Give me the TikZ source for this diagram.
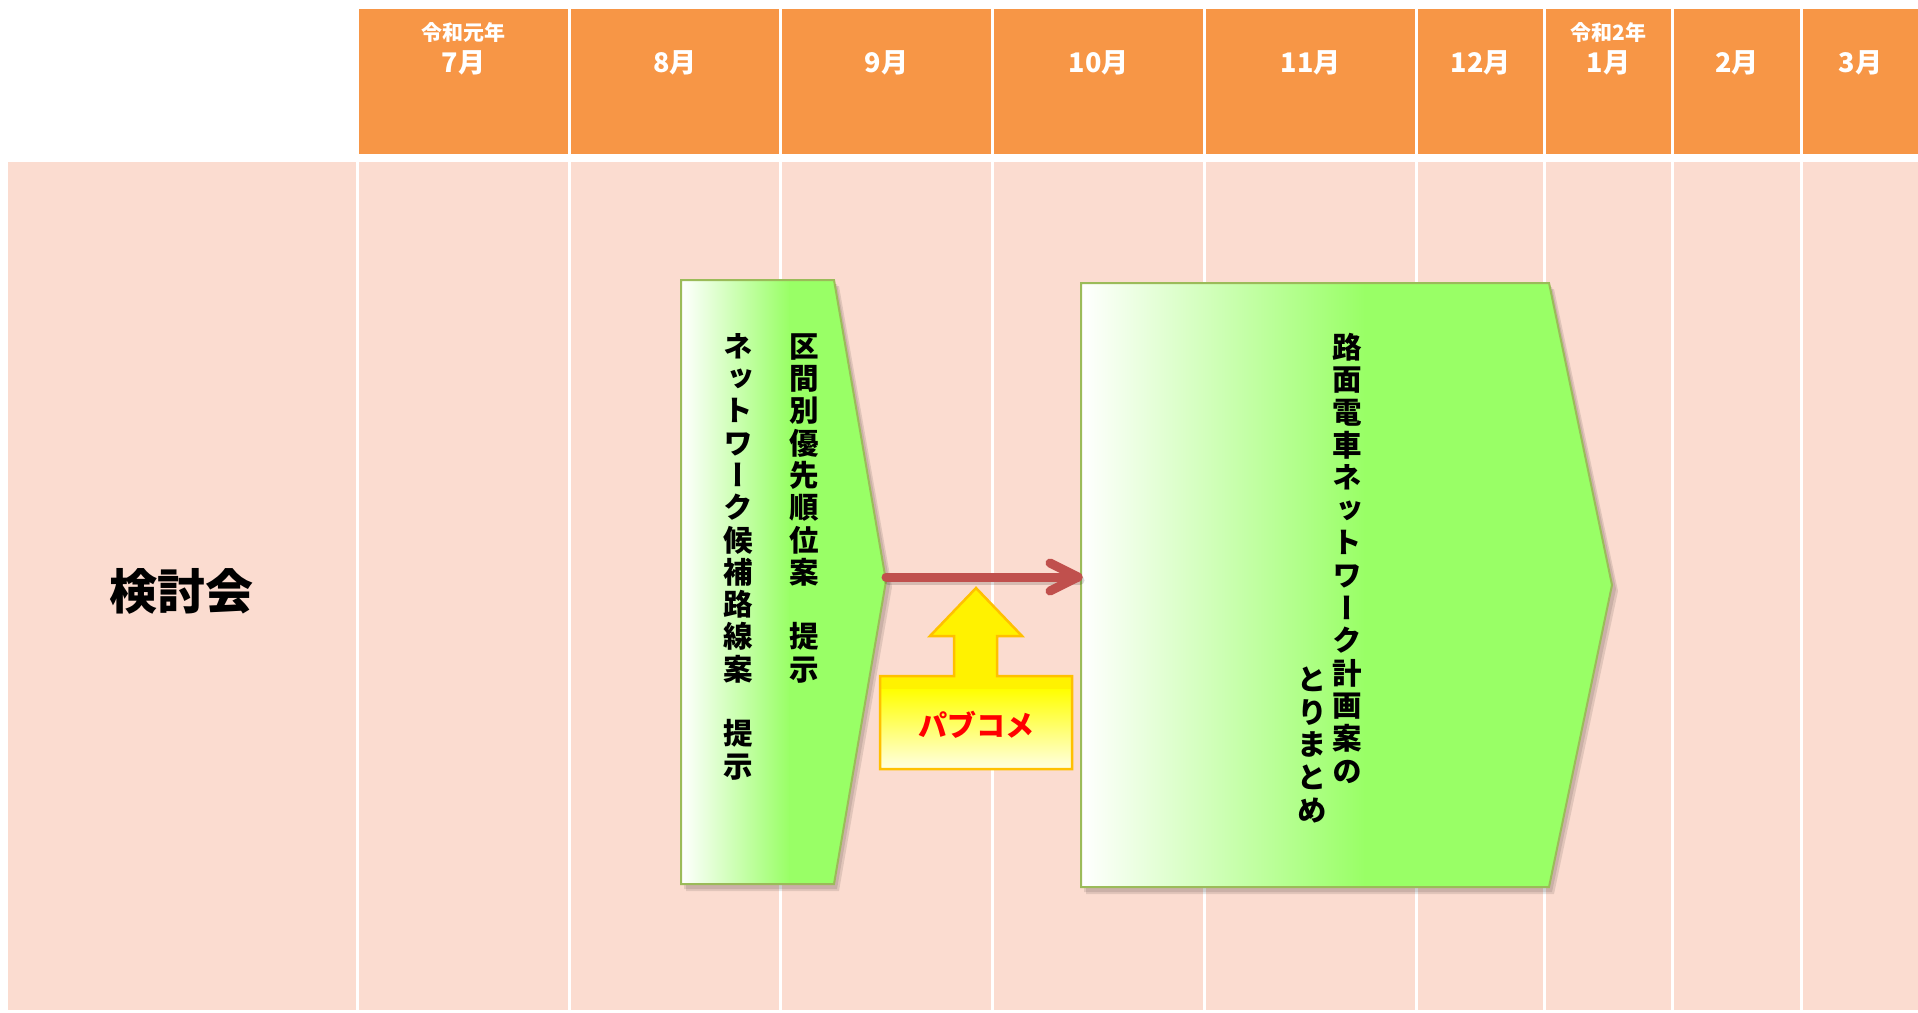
\documentclass[tikz,border=0pt]{standalone}
\usepackage{fontspec}
\newfontfamily\jp{Noto Sans CJK JP}
\newfontfamily\jpv{Noto Sans CJK JP}[RawFeature={+vert}]
\definecolor{hdr}{HTML}{F79646}
\definecolor{bodypink}{HTML}{FBDCD0}
\definecolor{grn}{HTML}{99FF66}
\definecolor{grnedge}{HTML}{9BBB59}
\definecolor{arrowred}{HTML}{C0504D}
\definecolor{ylwedge}{HTML}{FFC000}
\definecolor{ylwlight}{HTML}{FFFFE6}
\tikzset{
  hdrcell/.style={fill=hdr},
  bodycell/.style={fill=bodypink},
  yearlbl/.style={font=\jp\bfseries\fontsize{21}{21}\selectfont, text=white, inner sep=0},
  monthlbl/.style={font=\jp\bfseries\fontsize{27}{27}\selectfont, text=white, inner sep=0},
  vchar/.style={font=\jpv\bfseries\fontsize{29.5}{29.5}\selectfont, inner sep=0, text height=26pt, text depth=3.5pt, text width=30pt, align=center},
  boxedge/.style={draw=grnedge, line width=2pt, line join=miter},
  boxshadow/.style={fill=black, opacity=0.10},
  redarrow/.style={draw=arrowred, line width=9pt, line cap=round, line join=round},
  ylwedgestyle/.style={draw=ylwedge, line width=2.5pt, line join=miter},
}
\begin{document}
\begin{tikzpicture}[x=1pt,y=-1pt]
\fill[white] (0,0) rectangle (1918,1012);
\useasboundingbox (0,0) rectangle (1918,1012);

% left cell
\fill[bodycell] (8,162) rectangle (356,1010);
\node[font=\jp\bfseries\fontsize{48}{48}\selectfont, inner sep=0] (kentou) at (181,591) {検討会};

% columns
\foreach \xa/\xb in {359/568,571/779,782/991,994/1203,1206/1415,1418/1543,1546/1671,1674/1800,1803/1918}{
  \fill[hdrcell] (\xa,9) rectangle (\xb,154);
  \fill[bodycell] (\xa,162) rectangle (\xb,1010);
}

% header labels
\node[yearlbl] (y1) at (463.5,32) {令和元年};
\node[monthlbl] (m7) at (463.5,63) {7月};
\node[monthlbl] (m8) at (675,63) {8月};
\node[monthlbl] (m9) at (886.5,63) {9月};
\node[monthlbl] (m10) at (1098.5,63) {10月};
\node[monthlbl] (m11) at (1310.5,63) {11月};
\node[monthlbl] (m12) at (1480.5,63) {12月};
\node[yearlbl] (y2) at (1608.5,32) {令和2年};
\node[monthlbl] (m1) at (1608.5,63) {1月};
\node[monthlbl] (m2) at (1737,63) {2月};
\node[monthlbl] (m3) at (1860.5,63) {3月};

% ---- box 1 ----
\fill[boxshadow] (684,284) -- (837,284) -- (890,585) -- (837,889) -- (684,889) -- cycle;
\fill[boxshadow] (686,286) -- (839,286) -- (892,587) -- (839,891) -- (686,891) -- cycle;
\begin{scope}
  \clip (681,280) -- (834,280) -- (886,581) -- (834,884) -- (681,884) -- cycle;
  \shade[left color=white, right color=grn] (681,280) rectangle (790,884);
  \fill[grn] (789,280) rectangle (890,884);
\end{scope}
\draw[boxedge] (681,280) -- (834,280) -- (886,581) -- (834,884) -- (681,884) -- cycle;
\coordinate (b1tip) at (886,577);

\foreach \c [count=\i from 0] in {区,間,別,優,先,順,位,案,{},提,示}
  \node[vchar] (p\i) at (804,346+32.3*\i) {\c};
\foreach \c [count=\i from 0] in {ネ,ッ,ト,ワ,ー,ク,候,補,路,線,案,{},提,示}
  \node[vchar] (q\i) at (738,346+32.3*\i) {\c};

% ---- box 2 ----
\fill[boxshadow] (1084,287) -- (1552,287) -- (1616,589) -- (1552,892) -- (1084,892) -- cycle;
\fill[boxshadow] (1086,289) -- (1554,289) -- (1618,591) -- (1554,894) -- (1086,894) -- cycle;
\begin{scope}
  \clip (1081,283) -- (1549,283) -- (1612,585) -- (1549,887) -- (1081,887) -- cycle;
  \shade[left color=white, right color=grn] (1081,283) rectangle (1365,887);
  \fill[grn] (1364,283) rectangle (1620,887);
\end{scope}
\draw[boxedge] (1081,283) -- (1549,283) -- (1612,585) -- (1549,887) -- (1081,887) -- cycle;
\coordinate (b2in) at (1078,577);

\foreach \c [count=\i from 0] in {路,面,電,車,ネ,ッ,ト,ワ,ー,ク,計,画,案,の}
  \node[vchar] (r\i) at (1347,347+32.6*\i) {\c};
\foreach \c [count=\i from 0] in {と,り,ま,と,め}
  \node[vchar] (s\i) at (1312,679+32.8*\i) {\c};

% ---- yellow up arrow callout ----
\begin{scope}
  \clip (880,676) -- (954,676) -- (954,636) -- (930,636) -- (976,588) -- (1022,636) -- (997,636) -- (997,676) -- (1072,676) -- (1072,769) -- (880,769) -- cycle;
  \fill[yellow] (878,585) rectangle (1075,690);
  \shade[top color=yellow, bottom color=ylwlight] (878,689) rectangle (1075,770);
\end{scope}
\draw[ylwedgestyle] (880,676) -- (954,676) -- (954,636) -- (930,636) -- (976,588) -- (1022,636) -- (997,636) -- (997,676) -- (1072,676) -- (1072,769) -- (880,769) -- cycle;
\node[font=\jp\bfseries\fontsize{29}{29}\selectfont, text=red, inner sep=0] (pubcom) at (976,725) {パブコメ};

% ---- red arrow ----
\draw[redarrow, draw=black, opacity=0.15] ([shift={(2,3)}]b1tip) -- ([shift={(2,3)}]b2in);
\draw[redarrow] (b1tip) -- (b2in);
\draw[redarrow] ([shift={(-28,-14)}]b2in) -- (b2in) -- ([shift={(-28,14)}]b2in);
\end{tikzpicture}
\end{document}
